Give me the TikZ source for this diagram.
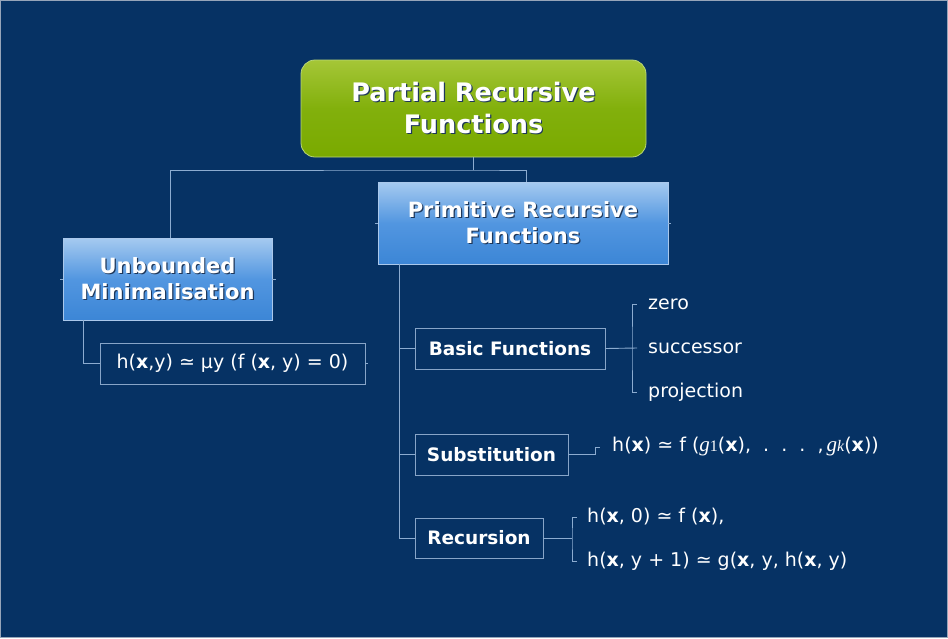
\documentclass[tikz,border=0pt]{standalone}
\usepackage{fontspec}
\setmainfont{DejaVu Sans}
\newfontfamily\serifit{Liberation Serif}
\usetikzlibrary{calc}
\definecolor{bg}{RGB}{6,50,100}
\definecolor{conn}{RGB}{140,172,208}
\definecolor{boxline}{RGB}{135,165,200}
\definecolor{bluetop}{RGB}{165,202,240}
\definecolor{bluemid}{RGB}{82,150,224}
\definecolor{bluebot}{RGB}{60,134,214}
\definecolor{bluebord}{RGB}{170,200,235}
\definecolor{greentop}{RGB}{165,198,55}
\definecolor{greenmid}{RGB}{130,176,12}
\definecolor{greenbot}{RGB}{122,170,0}
\definecolor{greenbord}{RGB}{185,215,120}
\definecolor{shadowc}{RGB}{30,55,90}
\newcommand{\sh}[1]{\leavevmode\rlap{\kern1.2pt\raisebox{-1.2pt}{\textcolor{shadowc}{#1}}}#1}
\newcommand{\bx}{\textbf{x}}
\newcommand{\gsubup}[1]{{\serifit\itshape\fontsize{21}{21}\selectfont g}{\serifit\fontsize{16}{16}\selectfont #1}}
\newcommand{\gsubit}[1]{{\serifit\itshape\fontsize{21}{21}\selectfont g}{\serifit\itshape\fontsize{16}{16}\selectfont #1}}
\tikzset{
  rootbox/.style={draw=greenbord, line width=0.8pt, rounded corners=14pt,
    top color=greentop, bottom color=greenbot, middle color=greenmid,
    minimum width=345pt, minimum height=97pt, text=white, align=center,
    font=\fontsize{25.5}{32}\selectfont\bfseries, inner sep=0pt},
  bluebox/.style={draw=bluebord, line width=0.6pt,
    top color=bluetop, bottom color=bluebot, middle color=bluemid,
    minimum height=82pt, text=white, align=center,
    font=\fontsize{21}{26}\selectfont\bfseries, inner sep=0pt},
  outbox/.style={draw=boxline, line width=0.8pt, minimum height=41pt,
    text=white, inner sep=0pt, font=\fontsize{19}{22}\selectfont},
  boldout/.style={outbox, font=\fontsize{18.5}{22}\selectfont\bfseries},
  leaf/.style={text=white, inner sep=0pt, anchor=west, font=\fontsize{19}{22}\selectfont},
  conline/.style={draw=conn, line width=0.9pt},
}
\begin{document}
\begin{tikzpicture}[x=1pt,y=-1pt]
\fill[bg] (0,0) rectangle (948,638);
\draw[color={rgb,255:red,150;green,165;blue,185}, line width=1pt] (0.5,0.5) rectangle (947.5,637.5);
\useasboundingbox (0,0) rectangle (948,638);

% nodes
\node[rootbox] (root) at (473.5,108.5) {\sh{Partial Recursive}\\\sh{Functions}};
\node[bluebox, minimum width=209pt] (unb) at (167.5,279) {\sh{Unbounded}\\\sh{Minimalisation}};
\node[bluebox, minimum width=290pt] (prim) at (523,223) {\sh{Primitive Recursive}\\\sh{Functions}};
\node[outbox, minimum width=265pt] (form) at (232.5,363.5) {h(\bx,y) ≃ μy (f (\bx, y) = 0)};
\node[boldout, minimum width=190pt] (basic) at (510,348.5) {Basic Functions};
\node[boldout, minimum width=153pt] (subst) at (491.5,454.5) {Substitution};
\node[boldout, minimum width=128pt, minimum height=40pt] (rec) at (479,538) {Recursion};

\node[leaf] (zero) at (648,304) {zero};
\node[leaf] (succ) at (648,348) {successor};
\node[leaf] (proj) at (648,392) {projection};
\node[leaf] (sf) at (612,447) {h(\bx) ≃ f (\gsubup{1}(\bx),\ \ .\ \ .\ \ .\ \ ,\,\gsubit{k}(\bx))};
\node[leaf] (r1) at (587,517) {h(\bx, 0) ≃ f (\bx),};
\node[leaf] (r2) at (587,561) {h(\bx, y + 1) ≃ g(\bx, y, h(\bx, y)};

% connectors
\coordinate (j) at (473.5,170);
\draw[conline] (root.south) -- (j);
\draw[conline] ([xshift=2.5pt]unb.north) |- (j) -| ([xshift=3pt]prim.north);
\draw[conline] ([xshift=21pt]unb.south west) |- (form.west);
\draw[conline] ([xshift=22pt]prim.south west) |- (basic.west);
\draw[conline] ([xshift=22pt]prim.south west) |- (subst.west);
\draw[conline] ([xshift=22pt]prim.south west) |- (rec.west);

\coordinate (bj) at (632,348.5);
\draw[conline] (basic.east) -- ([xshift=-11pt]succ.west);
\draw[conline] ([xshift=-11pt]zero.west) -| (bj) |- ([xshift=-11pt]proj.west);

\coordinate (sj) at (595,454.5);
\draw[conline] (subst.east) -- (sj) |- ([xshift=-12pt]sf.west);

\coordinate (rj) at (572,538);
\draw[conline] (rec.east) -- (rj);
\draw[conline] ([xshift=-10pt]r1.west) -| (rj) |- ([xshift=-10pt]r2.west);

% small stubs
\draw[conline] (unb.west) -- ++(-3,0);
\draw[conline] (unb.east) -- ++(4,0);
\draw[conline] (prim.west) -- ++(-3,0);
\draw[conline] (prim.east) -- ++(3,0);
\draw[conline] (form.east) -- ++(3,0);
\end{tikzpicture}
\end{document}
